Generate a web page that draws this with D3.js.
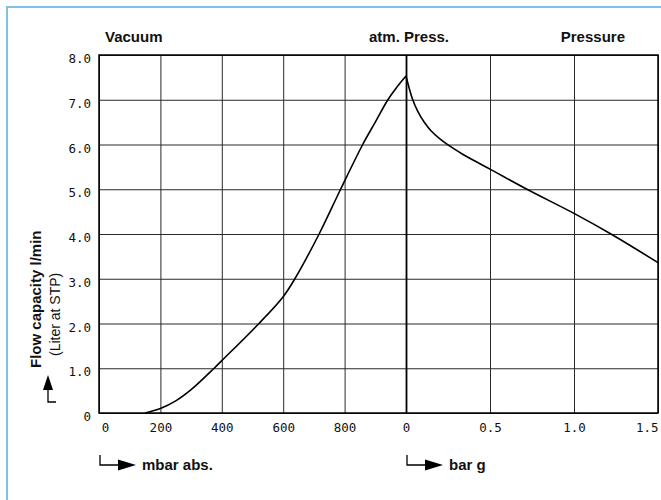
<!DOCTYPE html>
<html>
<head>
<meta charset="utf-8">
<script src="https://cdn.jsdelivr.net/npm/d3@7"></script>
<style>
  body { margin: 0; background: #fff; }
  svg { display: block; }
</style>
</head>
<body>
<div id="chart-container"></div>
<script>
// flow values
const yTicks = [0, 1, 2, 3, 4, 5, 6, 7, 8]
const vacuumTicks = [0, 200, 400, 600, 800]
const pressureTicks = [0, 0.5, 1.0, 1.5]
const vacuumMbar = [150, 200, 250, 300, 375, 400, 521, 600, 638, 717, 787, 859, 900, 941, 970, 1000]
const vacuumFlow = [0, 0.1, 0.27, 0.52, 1.0, 1.17, 2.0, 2.6, 3.0, 4.0, 5.0, 6.0, 6.5, 7.0, 7.28, 7.53]
const pressureBar = [0, 0.038, 0.07, 0.11, 0.15, 0.2, 0.25, 0.33, 0.41, 0.5, 0.72, 1.0, 1.22, 1.5]
const pressureFlow = [7.53, 7.02, 6.74, 6.49, 6.3, 6.13, 5.99, 5.8, 5.63, 5.45, 5.0, 4.46, 4.0, 3.36]

const width = 661
const height = 500
const plotLeft = 99
const plotMid = 406
const plotRight = 658
const plotTop = 55
const plotBottom = 413
const tickFont = "'DejaVu Sans Mono', monospace"
const labelFont = "'Liberation Sans', Arial, sans-serif"

const svg = d3.select('#chart-container')
  .append('svg')
  .attr('width', width)
  .attr('height', height)

// light blue panel border
svg.append('rect')
  .attr('x', 7).attr('y', 7)
  .attr('width', 720).attr('height', 620)
  .attr('fill', '#fff')
  .attr('stroke', '#7ec0ea')
  .attr('stroke-width', 2)

const y = d3.scaleLinear().domain([0, 8]).range([plotBottom, plotTop])
const xVac = d3.scaleLinear().domain([0, 1000]).range([plotLeft, plotMid])
const xBar = d3.scaleLinear().domain([0, 1.5]).range([plotMid, plotRight])

// horizontal grid + y labels
const yAxis = svg.append('g')
  .attr('transform', 'translate(' + plotLeft + ',0)')
  .call(d3.axisLeft(y)
    .tickValues(yTicks)
    .tickSize(-(plotRight - plotLeft))
    .tickPadding(8)
    .tickFormat(d => d === 0 ? '0' : d.toFixed(1)))
yAxis.select('.domain').remove()
yAxis.selectAll('line').attr('stroke', '#2a2a2a').attr('stroke-width', 1)
yAxis.selectAll('text')
  .attr('dy', '0.6em')
  .attr('font-family', tickFont)
  .attr('font-size', 12.5)
  .attr('fill', '#111')

// vertical grid + x labels, vacuum part
const xAxisVac = svg.append('g')
  .attr('transform', 'translate(0,' + plotBottom + ')')
  .call(d3.axisBottom(xVac)
    .tickValues(vacuumTicks)
    .tickSize(-(plotBottom - plotTop))
    .tickPadding(10)
    .tickFormat(d => String(d)))
xAxisVac.select('.domain').remove()

// pressure part
const xAxisBar = svg.append('g')
  .attr('transform', 'translate(0,' + plotBottom + ')')
  .call(d3.axisBottom(xBar)
    .tickValues(pressureTicks)
    .tickSize(-(plotBottom - plotTop))
    .tickPadding(10)
    .tickFormat(d => d === 0 ? '0' : d.toFixed(1)))
xAxisBar.select('.domain').remove()

for (const g of [xAxisVac, xAxisBar]) {
  g.selectAll('line').attr('stroke', '#2a2a2a').attr('stroke-width', 1)
  g.selectAll('text')
    .attr('font-family', tickFont)
    .attr('font-size', 12.5)
    .attr('fill', '#111')
}
xAxisVac.selectAll('text').filter(d => d === 0).attr('dx', 6)
xAxisBar.selectAll('text').filter(d => d === 1.5).attr('text-anchor', 'end')
xAxisBar.selectAll('line').filter(d => d === 0).attr('stroke', '#000').attr('stroke-width', 1.8)

// frame
svg.append('rect')
  .attr('x', plotLeft).attr('y', plotTop)
  .attr('width', plotRight - plotLeft).attr('height', plotBottom - plotTop)
  .attr('fill', 'none')
  .attr('stroke', '#000')
  .attr('stroke-width', 1.5)

// curve, vacuum side and pressure side meet in a sharp peak
const vacLine = d3.line()
  .x((d, i) => xVac(vacuumMbar[i]))
  .y(d => y(d))
  .curve(d3.curveCatmullRom.alpha(0.5))
const barLine = d3.line()
  .x((d, i) => xBar(pressureBar[i]))
  .y(d => y(d))
  .curve(d3.curveCatmullRom.alpha(0.5))

svg.append('path')
  .attr('d', vacLine(vacuumFlow))
  .attr('fill', 'none')
  .attr('stroke', '#000')
  .attr('stroke-width', 1.6)
svg.append('path')
  .attr('d', barLine(pressureFlow))
  .attr('fill', 'none')
  .attr('stroke', '#000')
  .attr('stroke-width', 1.6)

// header labels
const heads = [
  { text: 'Vacuum', x: 105, anchor: 'start' },
  { text: 'atm. Press.', x: 409, anchor: 'middle' },
  { text: 'Pressure', x: 625, anchor: 'end' }
]
svg.selectAll('.head')
  .data(heads)
  .enter()
  .append('text')
  .attr('x', d => d.x)
  .attr('y', 42)
  .attr('text-anchor', d => d.anchor)
  .attr('font-family', labelFont)
  .attr('font-weight', 'bold')
  .attr('font-size', 15)
  .attr('fill', '#111')
  .text(d => d.text)

// unit arrows under the x axis
function unitArrow (x0, len, label) {
  const g = svg.append('g')
  g.append('path')
    .attr('d', 'M' + x0 + ',455 V465 H' + (x0 + len))
    .attr('fill', 'none')
    .attr('stroke', '#000')
    .attr('stroke-width', 1.3)
  g.append('path')
    .attr('d', 'M' + (x0 + len - 2) + ',459.5 L' + (x0 + len + 16) + ',465 L' + (x0 + len - 2) + ',470.5 Z')
    .attr('fill', '#000')
  g.append('text')
    .attr('x', x0 + len + 22)
    .attr('y', 470)
    .attr('font-family', labelFont)
    .attr('font-weight', 'bold')
    .attr('font-size', 15)
    .attr('fill', '#111')
    .text(label)
}
unitArrow(100, 20, 'mbar abs.')
unitArrow(407, 20, 'bar g')

// y axis title
svg.append('text')
  .attr('transform', 'translate(41,368) rotate(-90)')
  .attr('font-family', labelFont)
  .attr('font-weight', 'bold')
  .attr('font-size', 15)
  .attr('fill', '#111')
  .text('Flow capacity l/min')
svg.append('text')
  .attr('transform', 'translate(60,356) rotate(-90)')
  .attr('font-family', labelFont)
  .attr('font-size', 14)
  .attr('fill', '#111')
  .text('(Liter at STP)')

// y arrow
svg.append('path')
  .attr('d', 'M48,388 V402 H56')
  .attr('fill', 'none')
  .attr('stroke', '#000')
  .attr('stroke-width', 1.3)
svg.append('path')
  .attr('d', 'M43,390 L48,375 L53,390 Z')
  .attr('fill', '#000')
</script>
</body>
</html>
